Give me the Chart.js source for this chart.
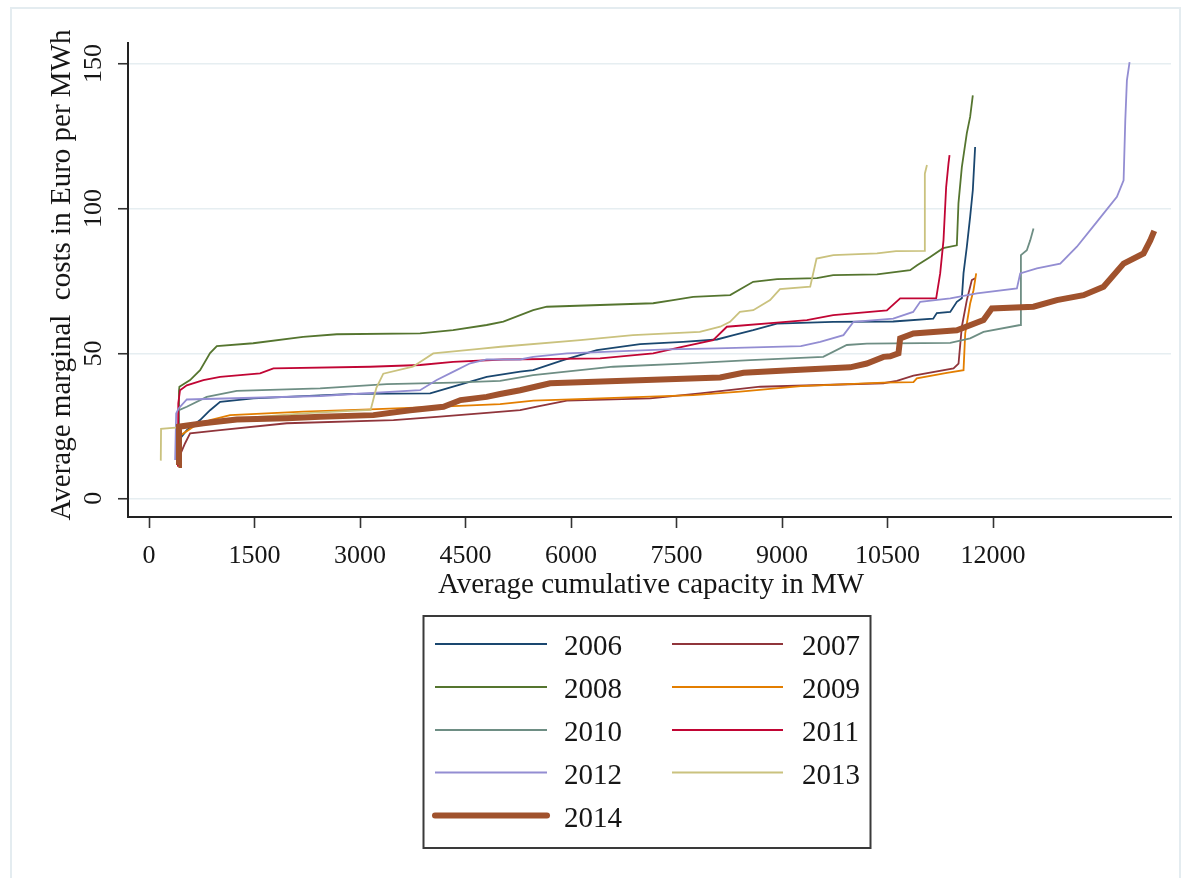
<!DOCTYPE html>
<html>
<head>
<meta charset="utf-8">
<script src="https://cdn.jsdelivr.net/npm/chart.js@4.4.0/dist/chart.umd.min.js"></script>
<style>
html,body{margin:0;padding:0;background:#fff;}
#wrap{width:1186px;height:878px;position:relative;}
</style>
</head>
<body>
<div id="wrap"><canvas id="c" width="1186" height="878"></canvas></div>
<script>
// ---- data ----
const years = ['2006','2007','2008','2009','2010','2011','2012','2013','2014'];
const xTickValues = [0,1500,3000,4500,6000,7500,9000,10500,12000];
const yTickValues = [0,50,100,150];
const xTitle = 'Average cumulative capacity in MW';
const yTitle = 'Average marginal  costs in Euro per MWh';

const cap2006 = [400,420,536,725,867,1010,1483,1958,2902,3996,4323,4800,5276,5461,5887,6366,6982,7594,8073,8310,8589,8926,9727,10580,11149,11200,11391,11485,11556,11580,11627,11674,11712,11745];
const cost2006 = [12,20,23.5,27,30.4,33.3,34.5,35,36,36.2,38.5,41.9,43.7,44.2,47.7,51.1,53.2,54,54.8,56.3,58,60.3,60.9,61,62,63.9,64.3,67.8,69,77.7,86.8,97.1,106.3,121.2];

const cap2007 = [410,440,512,583,1010,1958,3475,4090,4800,5276,5513,5940,7125,7836,8689,9589,10440,10632,10868,11438,11509,11556,11627,11698,11745];
const cost2007 = [11,15,19,22.4,23.5,25.9,27,28.1,29.5,30.4,31.6,33.7,34.5,36.2,38.5,39.1,39.7,40.5,42.3,44.8,46.5,59.2,68.4,75.3,75.9];

const cap2008 = [415,425,431,583,725,867,963,1480,2190,2669,3853,4323,4800,5037,5461,5655,6413,7167,7451,7736,8262,8589,8930,9495,9727,10350,10821,10920,11106,11290,11485,11508,11556,11627,11674,11712];
const cost2008 = [12,37,38.5,40.8,44.2,50.1,52.5,53.5,55.7,56.6,56.9,58,59.8,61,64.9,66.1,66.7,67.3,68.4,69.5,70.1,74.7,75.6,76,77,77.3,78.7,80.4,83.3,86.3,87.3,101.8,114.3,126,131.6,139];

const cap2009 = [410,450,630,867,1152,2194,3143,4328,4991,5465,6413,7740,8404,9267,10442,10868,10916,11343,11580,11604,11674,11722,11760];
const cost2009 = [11,21.8,24.7,27,28.7,29.9,30.7,31.8,32.5,33.7,34.5,35.6,36.8,38.7,39.9,40.1,41.4,43.3,44.2,56.9,67.2,71.8,77.6];

const cap2010 = [410,425,536,820,1247,2432,3380,4328,4991,5461,6598,7594,8547,9585,9920,10205,11391,11674,11864,12386,12396,12480,12528,12575];
const cost2010 = [12,30.4,31.6,35,37.1,37.9,39.4,39.9,40.5,42.5,45.4,46.5,47.7,48.8,52.9,53.4,53.6,55.2,57.4,59.8,83.9,85.6,89,93.1];

const cap2011 = [410,415,440,536,772,1010,1578,1768,3143,3853,4323,5037,6413,7167,7594,8020,8215,8926,9353,9727,10490,10679,11191,11248,11295,11333,11366,11381];
const cost2011 = [11,32.8,37.3,39,40.8,41.9,43.1,44.8,45.4,46,47.1,47.9,48.3,50,52.3,54.6,59.2,60.6,61.5,63.2,64.8,69,69,77.6,89,107.4,115.5,118.4];

const cap2012 = [370,385,420,536,2432,3853,4090,4328,4565,4800,5276,5461,5940,7363,8073,9267,9542,9873,10016,10580,10864,10964,11391,11770,12339,12386,12623,12955,13192,13476,13761,13856,13880,13903,13941];
const cost2012 = [13.2,29.3,31,34.1,35.3,37.3,40.8,43.7,46.6,47.9,47.9,48.8,50,51.4,51.7,52.5,54,56.3,60.9,62,64.3,67.8,69,70.7,72.4,77.6,79.3,81,86.8,95.4,104,109.7,130.4,144.2,150.5];

const cap2013 = [166,170,420,900,1500,2300,3150,3230,3330,3750,4040,4660,5000,6130,6880,7830,8120,8260,8400,8590,8830,8970,9400,9490,9730,10350,10620,11020,11030,11060];
const cost2013 = [13,24,24.5,26,28,29.5,30.5,38,43,45.4,50,51.5,52.3,54.6,56.3,57.4,59.2,60.9,64.3,64.9,68.4,72.2,73,82.7,83.9,84.5,85.3,85.4,112,115];

const cap2014 = [417,425,772,1247,1958,2432,3190,3712,4186,4428,4800,4991,5276,5702,6650,8120,8451,9116,9968,10205,10442,10537,10655,10679,10868,11391,11485,11864,11982,12575,12907,13286,13571,13856,14140,14235,14292];
const cost2014 = [11.5,24.7,25.9,27.2,27.6,28.1,28.7,30.4,31.6,33.9,35,36,37.3,39.7,40.5,41.7,43.3,44.2,45.2,46.5,48.8,49,50,55.2,56.9,57.8,58,61.5,65.5,66.1,68.4,70.1,73,81,84.5,89,92.3];

const caps = [cap2006,cap2007,cap2008,cap2009,cap2010,cap2011,cap2012,cap2013,cap2014];
const costs = [cost2006,cost2007,cost2008,cost2009,cost2010,cost2011,cost2012,cost2013,cost2014];
const colors = ['#1a476f','#90353b','#55752f','#e37e00','#6e8e84','#c10534','#938dd2','#cac27e','#a0522d'];
const widths = [1.8,1.8,1.8,1.8,1.8,1.8,1.8,1.8,6];

const datasets = years.map((y,i)=>({
  label: y,
  data: caps[i].map((x,j)=>({x:x, y:costs[i][j]})),
  borderColor: colors[i],
  backgroundColor: colors[i],
  borderWidth: widths[i],
  pointRadius: 0,
  tension: 0,
  fill: false,
  order: years.length - i
}));

const FONT = "'Liberation Serif', 'Times New Roman', serif";
const TXT = '#161616';

const decor = {
  id: 'decor',
  beforeDraw(chart){
    const ctx = chart.ctx;
    ctx.save();
    ctx.fillStyle = '#ffffff';
    ctx.fillRect(0,0,chart.width,chart.height);
    ctx.strokeStyle = '#e4ecf0';
    ctx.lineWidth = 2;
    ctx.strokeRect(11, 8, 1169, 880);
    ctx.restore();
  },
  afterDraw(chart){
    const ctx = chart.ctx;
    const xs = chart.scales.x, ys = chart.scales.y;
    ctx.save();
    ctx.fillStyle = TXT;
    // x tick labels
    ctx.font = '26px ' + FONT;
    ctx.textAlign = 'center';
    ctx.textBaseline = 'alphabetic';
    xTickValues.forEach(v=>{
      ctx.fillText(String(v), xs.getPixelForValue(v), 563);
    });
    // y tick labels (rotated)
    yTickValues.forEach(v=>{
      ctx.save();
      ctx.translate(101, ys.getPixelForValue(v));
      ctx.rotate(-Math.PI/2);
      ctx.fillText(String(v), 0, 0);
      ctx.restore();
    });
    // titles
    ctx.font = '29px ' + FONT;
    ctx.fillText(xTitle, 651, 593);
    ctx.save();
    ctx.translate(70, 275);
    ctx.rotate(-Math.PI/2);
    ctx.fillText(yTitle, 0, 0);
    ctx.restore();
    // legend
    ctx.strokeStyle = '#3a3a3a';
    ctx.lineWidth = 2;
    ctx.strokeRect(423.5, 616, 447, 232);
    const rowY = [644, 687, 730, 772.5, 815.5];
    const colLine = [[435,547],[672,783]];
    const colText = [564, 802];
    ctx.font = '29px ' + FONT;
    ctx.textAlign = 'left';
    chart.data.datasets.forEach((ds,i)=>{
      const r = Math.floor(i/2), c = i%2;
      const y = rowY[r];
      ctx.beginPath();
      ctx.strokeStyle = ds.borderColor;
      ctx.lineWidth = ds.borderWidth === 6 ? 6 : 2;
      ctx.lineCap = ds.borderWidth === 6 ? 'round' : 'butt';
      ctx.moveTo(colLine[c][0], y);
      ctx.lineTo(colLine[c][1], y);
      ctx.stroke();
      ctx.fillStyle = TXT;
      ctx.fillText(ds.label, colText[c], y + 11);
    });
    ctx.restore();
  }
};

new Chart(document.getElementById('c'), {
  type: 'line',
  data: { datasets },
  plugins: [decor],
  options: {
    responsive: false,
    animation: false,
    layout: { padding: { top: 43, right: 15, left: 0, bottom: 0 } },
    plugins: { legend: { display: false }, tooltip: { enabled: false } },
    scales: {
      x: {
        type: 'linear',
        min: -300, max: 14530,
        afterBuildTicks: s => { s.ticks = xTickValues.map(v=>({value:v})); },
        afterFit: s => { s.height = 361; },
        ticks: { display: false },
        grid: { drawOnChartArea: false, drawTicks: true, tickLength: 11, tickColor: '#333', tickWidth: 1.6 },
        border: { display: true, color: '#222', width: 2 }
      },
      y: {
        type: 'linear',
        min: -6.45, max: 157.1,
        afterBuildTicks: s => { s.ticks = yTickValues.map(v=>({value:v})); },
        afterFit: s => { s.width = 128; },
        ticks: { display: false },
        grid: { color: '#e6eef1', lineWidth: 1.5, drawTicks: true, tickLength: 10, tickColor: '#333', tickWidth: 1.6 },
        border: { display: true, color: '#222', width: 2 }
      }
    }
  }
});
</script>
</body>
</html>
